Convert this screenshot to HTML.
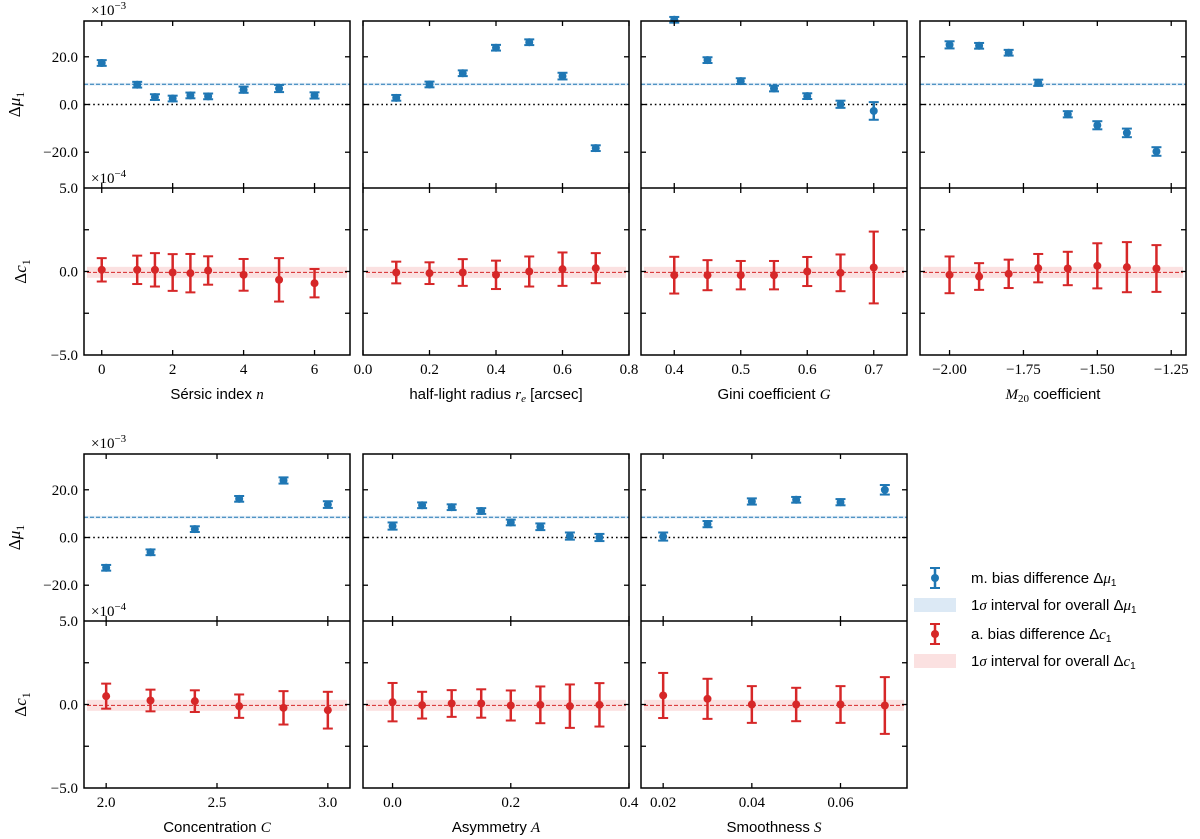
<!DOCTYPE html>
<html><head><meta charset="utf-8"><style>
body{margin:0;background:#fff}
svg{display:block}
text{font-family:"Liberation Serif",serif;fill:#000}
.lab{font-family:"Liberation Sans",sans-serif;font-size:15px}
.mi{font-family:"Liberation Serif",serif;font-style:italic}
</style></head><body>
<svg id="fig" width="1200" height="839" viewBox="0 0 1200 839" xmlns="http://www.w3.org/2000/svg"></svg>
<script>
// ---- data (mu in 1e-3, c in 1e-4) ----
const sersicX=[0,1,1.5,2,2.5,3,4,5,6];
const sersicMu=[17.4,8.3,3.1,2.5,3.8,3.4,6.2,6.7,3.8];
const sersicMuErr=[1.2,1.2,1.2,1.2,1.2,1.2,1.3,1.5,1.3];
const sersicC=[0.1,0.1,0.1,-0.06,-0.1,0.06,-0.2,-0.5,-0.7];
const sersicCErr=[0.7,0.85,1.0,1.1,1.15,0.85,0.95,1.3,0.85];

const reX=[0.1,0.2,0.3,0.4,0.5,0.6,0.7];
const reMu=[2.8,8.4,13.1,23.8,26.1,11.9,-18.3];
const reMuErr=[1.2,1.2,1.2,1.2,1.2,1.4,1.2];
const reC=[-0.06,-0.1,-0.06,-0.2,0,0.14,0.2];
const reCErr=[0.65,0.65,0.8,0.85,0.9,1.0,0.9];

const giniX=[0.4,0.45,0.5,0.55,0.6,0.65,0.7];
const giniMu=[35.5,18.6,9.8,6.7,3.5,0.1,-2.7];
const giniMuErr=[1.2,1.2,1.2,1.2,1.2,1.5,3.7];
const giniC=[-0.22,-0.22,-0.22,-0.22,0,-0.08,0.24];
const giniCErr=[1.1,0.9,0.85,0.85,0.87,1.1,2.15];

const m20X=[-2.0,-1.9,-1.8,-1.7,-1.6,-1.5,-1.4,-1.3];
const m20Mu=[25,24.6,21.7,9.1,-4.1,-8.7,-11.9,-19.7];
const m20MuErr=[1.5,1.2,1.2,1.3,1.3,1.7,1.8,1.8];
const m20C=[-0.2,-0.3,-0.14,0.2,0.18,0.34,0.26,0.18];
const m20CErr=[1.1,0.8,0.85,0.85,1.0,1.35,1.5,1.4];

const concX=[2.0,2.2,2.4,2.6,2.8,3.0];
const concMu=[-12.7,-6.2,3.5,16.2,23.9,13.8];
const concMuErr=[1.2,1.2,1.2,1.2,1.3,1.4];
const concC=[0.5,0.24,0.2,-0.1,-0.2,-0.34];
const concCErr=[0.75,0.65,0.65,0.7,1.0,1.1];

const asymX=[0,0.05,0.1,0.15,0.2,0.25,0.3,0.35];
const asymMu=[4.8,13.5,12.7,11.1,6.3,4.5,0.6,0];
const asymMuErr=[1.5,1.2,1.2,1.2,1.2,1.4,1.5,1.5];
const asymC=[0.14,-0.04,0.06,0.06,-0.06,-0.02,-0.1,-0.02];
const asymCErr=[1.15,0.8,0.8,0.85,0.9,1.1,1.3,1.3];

const smoothX=[0.02,0.03,0.04,0.05,0.06,0.07];
const smoothMu=[0.4,5.6,15.1,15.8,14.8,20];
const smoothMuErr=[1.7,1.3,1.3,1.2,1.3,2.0];
const smoothC=[0.54,0.34,0,0,0,-0.06];
const smoothCErr=[1.35,1.2,1.1,1.0,1.1,1.7];

const overallMu=8.5, overallMuErr=0.6;
const overallC=-0.05, overallCErr=0.33;

const muTicks=[-20,0,20], muTickLabels=["\u221220.0","0.0","20.0"];
const cTicks=[-2.5,0,2.5], cTickLabels=[["\u22125.0",-5],["0.0",0],["5.0",5]];

const I=s=>"<tspan class='mi'>"+s+"</tspan>";
const panels=[
 {name:"sersic",left:84,top:21,xlim:[-0.5,7],ticks:[0,2,4,6],tl:["0","2","4","6"],label:"Sérsic index "+I("n"),x:sersicX,mu:sersicMu,me:sersicMuErr,c:sersicC,ce:sersicCErr,first:true},
 {name:"radius",left:363,top:21,xlim:[0,0.8],ticks:[0,0.2,0.4,0.6,0.8],tl:["0.0","0.2","0.4","0.6","0.8"],label:"half-light radius "+I("r")+"<tspan class='mi' dy='3' font-size='11'>e</tspan><tspan dy='-3'> [arcsec]</tspan>",x:reX,mu:reMu,me:reMuErr,c:reC,ce:reCErr},
 {name:"gini",left:641,top:21,xlim:[0.35,0.75],ticks:[0.4,0.5,0.6,0.7],tl:["0.4","0.5","0.6","0.7"],label:"Gini coefficient "+I("G"),x:giniX,mu:giniMu,me:giniMuErr,c:giniC,ce:giniCErr},
 {name:"m20",left:920,top:21,xlim:[-2.1,-1.2],ticks:[-2,-1.75,-1.5,-1.25],tl:["\u22122.00","\u22121.75","\u22121.50","\u22121.25"],label:I("M")+"<tspan dy='3' font-size='11' font-family='Liberation Serif'>20</tspan><tspan dy='-3'> coefficient</tspan>",x:m20X,mu:m20Mu,me:m20MuErr,c:m20C,ce:m20CErr},
 {name:"concentration",left:84,top:454,xlim:[1.9,3.1],ticks:[2,2.5,3],tl:["2.0","2.5","3.0"],label:"Concentration "+I("C"),x:concX,mu:concMu,me:concMuErr,c:concC,ce:concCErr,first:true},
 {name:"asymmetry",left:363,top:454,xlim:[-0.05,0.4],ticks:[0,0.2,0.4],tl:["0.0","0.2","0.4"],label:"Asymmetry "+I("A"),x:asymX,mu:asymMu,me:asymMuErr,c:asymC,ce:asymCErr},
 {name:"smoothness",left:641,top:454,xlim:[0.015,0.075],ticks:[0.02,0.04,0.06],tl:["0.02","0.04","0.06"],label:"Smoothness "+I("S"),x:smoothX,mu:smoothMu,me:smoothMuErr,c:smoothC,ce:smoothCErr}
];
const W=266,H=167,BLUE="#1f77b4",RED="#d62728";
const svg=document.getElementById('fig');
const NS="http://www.w3.org/2000/svg";
function mk(tag,attrs,parent){const e=document.createElementNS(NS,tag);for(const k in attrs)e.setAttribute(k,attrs[k]);(parent||svg).appendChild(e);return e;}

panels.forEach(p=>{
 const g=mk('g',{});
 
 
 const L=p.left,R=p.left+W;
 const sx=v=>L+(v-p.xlim[0])/(p.xlim[1]-p.xlim[0])*W;
 const t1=p.top,b1=p.top+H,t2=b1,b2=b1+H;
 const sMu=v=>t1+(35-v)/70*H;
 const sC=v=>t2+(5-v)/10*H;
 const bb=mk('rect',{x:L,y:sMu(overallMu+overallMuErr),width:W,height:sMu(overallMu-overallMuErr)-sMu(overallMu+overallMuErr),fill:"#dce9f5",opacity:0.8},g);
 
 const rb=mk('rect',{x:L+3,y:sC(overallC+overallCErr),width:W-6,height:sC(overallC-overallCErr)-sC(overallC+overallCErr),fill:"#fbe1e1"},g);
 
 const bl=mk('line',{x1:L,x2:R,y1:sMu(overallMu),y2:sMu(overallMu),stroke:BLUE,"stroke-width":1,"stroke-dasharray":"4,2"},g);
 
 const zl=mk('line',{x1:L,x2:R,y1:sMu(0),y2:sMu(0),stroke:"#000","stroke-width":1.6,"stroke-dasharray":"1.6,3"},g);
 
 const rl=mk('line',{x1:L+3,x2:R-3,y1:sC(overallC),y2:sC(overallC),stroke:RED,"stroke-width":1,"stroke-dasharray":"4,2"},g);
 
 p.x.forEach((xv,i)=>{
  const X=sx(xv);
  const y=sMu(p.mu[i]),ya=sMu(p.mu[i]+p.me[i]),yb=sMu(p.mu[i]-p.me[i]);
  const pg=mk('g',{},g);
  
  mk('line',{x1:X,x2:X,y1:ya,y2:yb,stroke:BLUE,"stroke-width":2.5},pg);
  mk('line',{x1:X-5,x2:X+5,y1:ya,y2:ya,stroke:BLUE,"stroke-width":2},pg);
  mk('line',{x1:X-5,x2:X+5,y1:yb,y2:yb,stroke:BLUE,"stroke-width":2},pg);
  mk('circle',{cx:X,cy:y,r:4,fill:BLUE},pg);
  const cy=sC(p.c[i]),ca=sC(p.c[i]+p.ce[i]),cb=sC(p.c[i]-p.ce[i]);
  const cg=mk('g',{},g);
  
  mk('line',{x1:X,x2:X,y1:ca,y2:cb,stroke:RED,"stroke-width":2.5},cg);
  mk('line',{x1:X-5,x2:X+5,y1:ca,y2:ca,stroke:RED,"stroke-width":2},cg);
  mk('line',{x1:X-5,x2:X+5,y1:cb,y2:cb,stroke:RED,"stroke-width":2},cg);
  mk('circle',{cx:X,cy:cy,r:4,fill:RED},cg);
 });
 mk('rect',{x:L,y:t1,width:W,height:2*H,fill:"none",stroke:"#000","stroke-width":1.5},g);
 mk('line',{x1:L,x2:R,y1:b1,y2:b1,stroke:"#000","stroke-width":1.5},g);
 p.ticks.forEach((t,i)=>{
  const X=sx(t);
  [[t1,1],[b1,-1],[t2,1],[b2,-1]].forEach(([yy,d])=>mk('line',{x1:X,x2:X,y1:yy,y2:yy+d*5,stroke:"#000","stroke-width":1.3},g));
  const tx=mk('text',{x:X,y:b2+19,"text-anchor":"middle","font-size":15},g);
  tx.textContent=p.tl[i];
  
 });
 muTicks.forEach((t,i)=>{const Y=sMu(t);
  mk('line',{x1:L,x2:L+5,y1:Y,y2:Y,stroke:"#000","stroke-width":1.3},g);
  mk('line',{x1:R,x2:R-5,y1:Y,y2:Y,stroke:"#000","stroke-width":1.3},g);
  if(p.first){const tx=mk('text',{x:L-6,y:Y+5,"text-anchor":"end","font-size":15},g);tx.textContent=muTickLabels[i];
   }
 });
 cTicks.forEach(t=>{const Y=sC(t);
  mk('line',{x1:L,x2:L+5,y1:Y,y2:Y,stroke:"#000","stroke-width":1.3},g);
  mk('line',{x1:R,x2:R-5,y1:Y,y2:Y,stroke:"#000","stroke-width":1.3},g);
 });
 if(p.first){
  cTickLabels.forEach(([s,v])=>{const tx=mk('text',{x:L-6,y:sC(v)+5,"text-anchor":"end","font-size":15},g);tx.textContent=s;
   });
  const o1=mk('text',{x:L+7,y:t1-6,"font-size":15},g);o1.innerHTML="×10<tspan dy='-6' font-size='11'>−3</tspan>";
  
  const o2=mk('text',{x:L+7,y:b1-5,"font-size":15},g);o2.innerHTML="×10<tspan dy='-6' font-size='11'>−4</tspan>";
  
  const y1=mk('text',{x:0,y:0,"font-size":17,transform:`translate(${L-64},${sMu(0)}) rotate(-90)`,"text-anchor":"middle"},g);
  y1.innerHTML="Δ<tspan font-style='italic'>μ</tspan><tspan dy='4' font-size='12'>1</tspan>";
  
  const y2=mk('text',{x:0,y:0,"font-size":17,transform:`translate(${L-58},${sC(0)}) rotate(-90)`,"text-anchor":"middle"},g);
  y2.innerHTML="Δ<tspan font-style='italic'>c</tspan><tspan dy='4' font-size='12'>1</tspan>";
  
 }
 const xl=mk('text',{x:L+W/2,y:b2+44,"text-anchor":"middle",class:"lab"},g);
 xl.innerHTML=p.label;
 
});
const lg=mk('g',{});

const legItems=[["m. bias difference Δ<tspan class='mi'>μ</tspan><tspan dy='3' font-size='10'>1</tspan>","pt",BLUE,578],
["1<tspan class='mi'>σ</tspan> interval for overall Δ<tspan class='mi'>μ</tspan><tspan dy='3' font-size='10'>1</tspan>","band","#dce9f5",605],
["a. bias difference Δ<tspan class='mi'>c</tspan><tspan dy='3' font-size='10'>1</tspan>","pt",RED,634],
["1<tspan class='mi'>σ</tspan> interval for overall Δ<tspan class='mi'>c</tspan><tspan dy='3' font-size='10'>1</tspan>","band","#fbe1e1",661]];
legItems.forEach(([t,kind,col,y])=>{
 const e=mk('g',{},lg);
 
 if(kind==="pt"){
  mk('line',{x1:935,x2:935,y1:y-10,y2:y+10,stroke:col,"stroke-width":2.5},e);
  mk('line',{x1:930,x2:940,y1:y-10,y2:y-10,stroke:col,"stroke-width":2},e);
  mk('line',{x1:930,x2:940,y1:y+10,y2:y+10,stroke:col,"stroke-width":2},e);
  mk('circle',{cx:935,cy:y,r:4,fill:col},e);
 } else mk('rect',{x:914,y:y-7,width:42,height:14,fill:col},e);
 const tx=mk('text',{x:971,y:y+5,class:"lab"},e);tx.innerHTML=t;
});
</script>
</body></html>
